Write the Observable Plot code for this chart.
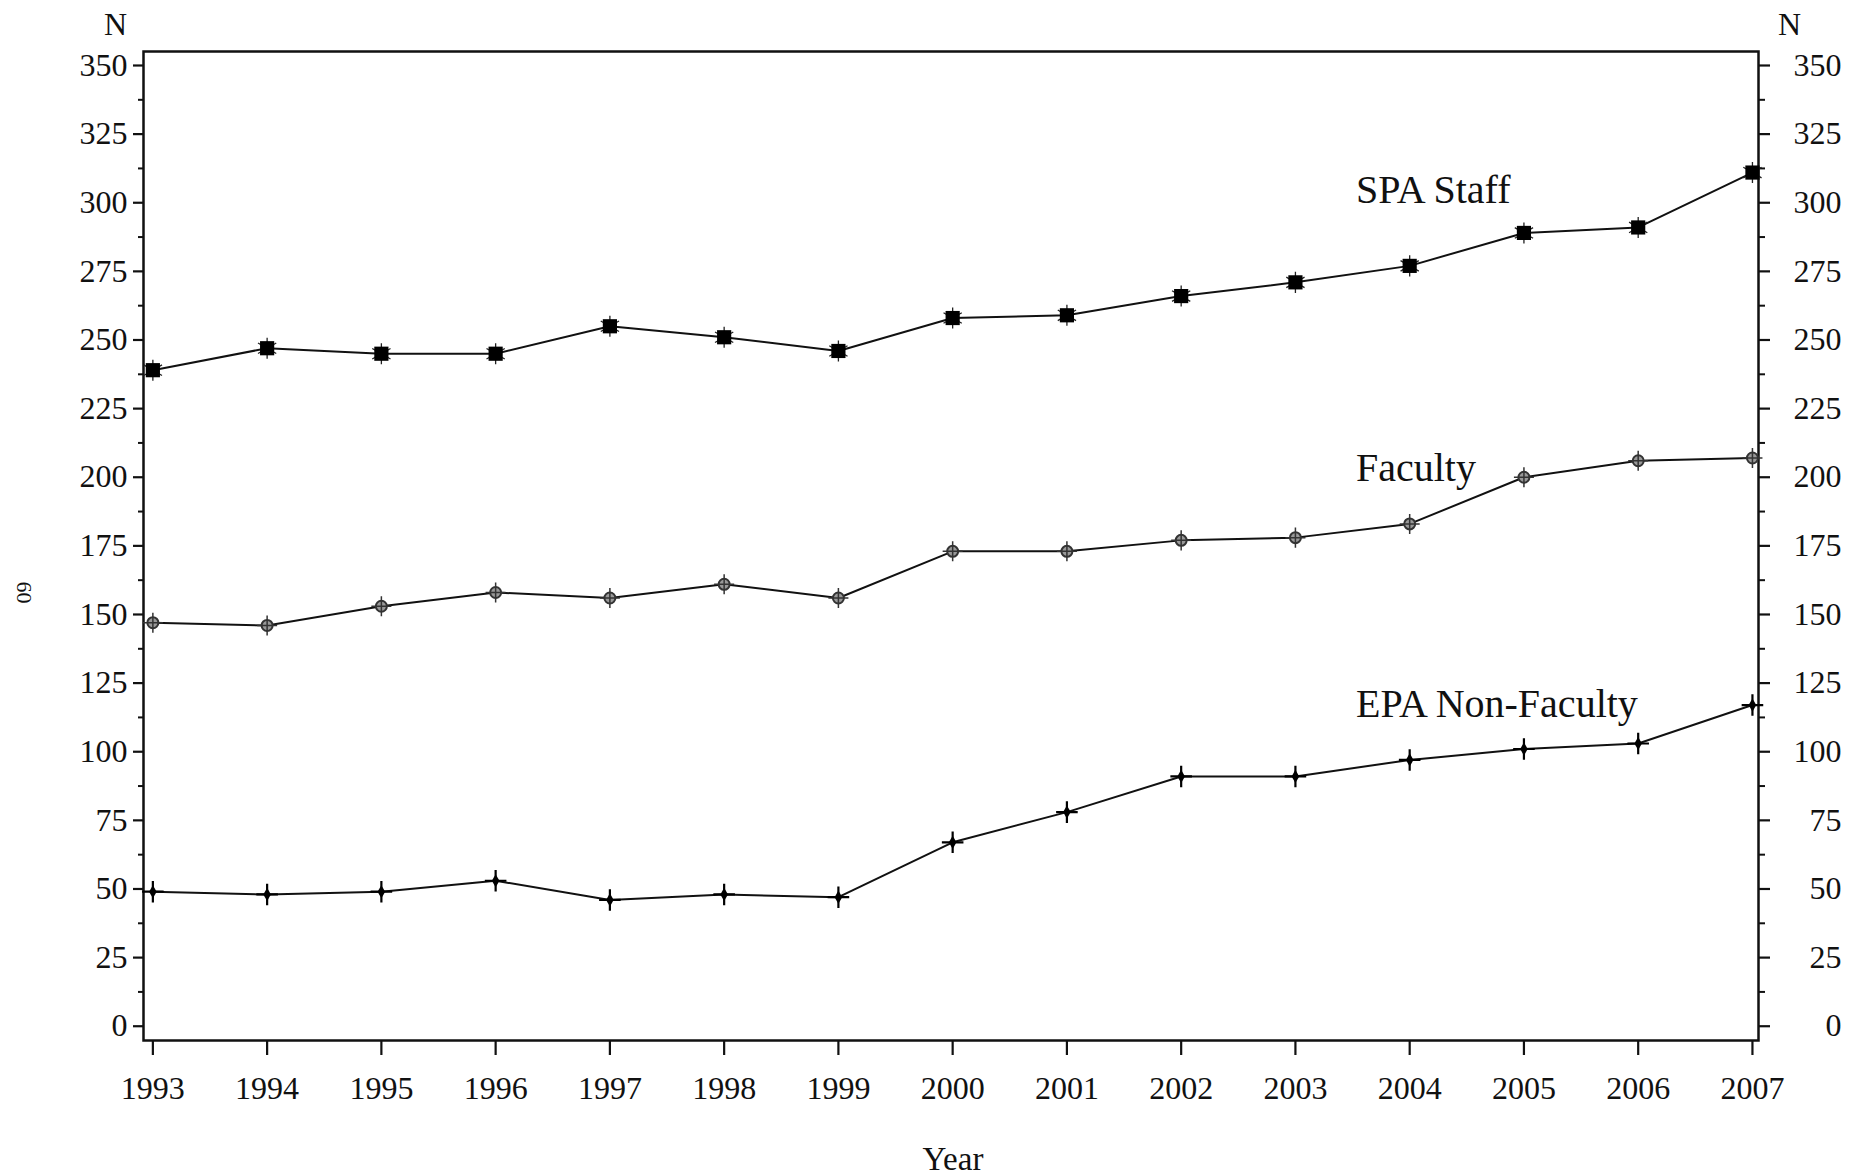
<!DOCTYPE html>
<html>
<head>
<meta charset="utf-8">
<script src="https://cdn.jsdelivr.net/npm/d3@7"></script>
<script src="https://cdn.jsdelivr.net/npm/@observablehq/plot@0.6"></script>
<style>
  html, body { margin: 0; padding: 0; background: #fff; }
  #chart svg { display: block; }
</style>
</head>
<body>
<div id="chart"></div>
<script>
const years = [1993, 1994, 1995, 1996, 1997, 1998, 1999, 2000, 2001, 2002, 2003, 2004, 2005, 2006, 2007];
const spaStaff = [239, 247, 245, 245, 255, 251, 246, 258, 259, 266, 271, 277, 289, 291, 311];
const faculty = [147, 146, 153, 158, 156, 161, 156, 173, 173, 177, 178, 183, 200, 206, 207];
const epaNonFaculty = [49, 48, 49, 53, 46, 48, 47, 67, 78, 91, 91, 97, 101, 103, 117];
const yTicks = [0, 25, 50, 75, 100, 125, 150, 175, 200, 225, 250, 275, 300, 325, 350];
const yMinorTicks = [12.5, 37.5, 62.5, 87.5, 112.5, 137.5, 162.5, 187.5, 212.5, 237.5, 262.5, 287.5, 312.5, 337.5];
const seriesLabels = ["SPA Staff", "Faculty", "EPA Non-Faculty"];

const rows = (vals) => years.map((yr, i) => ({year: yr, n: vals[i]}));
const spa = rows(spaStaff);
const fac = rows(faculty);
const epa = rows(epaNonFaculty);

const font = "'Liberation Serif', 'Times New Roman', Times, serif";

const chart = Plot.plot({
  width: 1854,
  height: 1175,
  marginLeft: 143,
  marginRight: 96,
  marginTop: 51,
  marginBottom: 135,
  style: {fontFamily: font, fontSize: "32px", color: "#111", background: "#fff", overflow: "visible"},
  x: {domain: [1992.918, 2007.053]},
  y: {domain: [-5.2, 355.1]},
  marks: [
    Plot.axisY({ticks: yTicks, tickSize: 10, tickPadding: 6, strokeWidth: 2.2, label: null, fontSize: 32}),
    Plot.axisY({ticks: yMinorTicks, tickSize: 5, strokeWidth: 2, text: null, label: null}),
    Plot.axisY({anchor: "right", ticks: yTicks, tickSize: 11, tickPadding: 72, textAnchor: "end", strokeWidth: 2.2, label: null, fontSize: 32}),
    Plot.axisY({anchor: "right", ticks: yMinorTicks, tickSize: 6, strokeWidth: 2, text: null, label: null}),
    Plot.axisX({ticks: years, tickFormat: "d", tickSize: 15, tickPadding: 21, strokeWidth: 2.2, label: null, fontSize: 32}),
    Plot.frame({stroke: "#111", strokeWidth: 2.5}),

    Plot.lineY(spa, {x: "year", y: "n", stroke: "#111", strokeWidth: 2}),
    Plot.lineY(fac, {x: "year", y: "n", stroke: "#111", strokeWidth: 2}),
    Plot.lineY(epa, {x: "year", y: "n", stroke: "#111", strokeWidth: 2}),

    // SPA Staff markers: star behind a filled square
    Plot.dot(spa, {x: "year", y: "n", symbol: "asterisk", r: 10, stroke: "#222", strokeWidth: 1.3}),
    Plot.dot(spa, {x: "year", y: "n", symbol: "square", r: 8, fill: "#000", stroke: "none"}),

    // Faculty markers: circle with plus
    Plot.dot(fac, {x: "year", y: "n", symbol: "circle", r: 5.5, fill: "#999", stroke: "#333", strokeWidth: 2}),
    Plot.dot(fac, {x: "year", y: "n", symbol: "plus", r: 6.5, stroke: "#333", strokeWidth: 1.5}),

    // EPA Non-Faculty markers: bold plus
    Plot.dot(epa, {x: "year", y: "n", symbol: "plus", r: 7, stroke: "#000", strokeWidth: 2.2}),
    Plot.dot(epa, {x: "year", y: "n", symbol: "diamond", r: 4, fill: "#000", stroke: "none"}),

    // Series labels
    Plot.text([seriesLabels[0]], {x: 2003.53, y: 300, text: d => d, textAnchor: "start", lineAnchor: "bottom", fontSize: 40, fill: "#111"}),
    Plot.text([seriesLabels[1]], {x: 2003.53, y: 198.6, text: d => d, textAnchor: "start", lineAnchor: "bottom", fontSize: 40, fill: "#111"}),
    Plot.text([seriesLabels[2]], {x: 2003.53, y: 112.8, text: d => d, textAnchor: "start", lineAnchor: "bottom", fontSize: 40, fill: "#111"}),

    // Axis titles
    Plot.text(["N"], {frameAnchor: "top-left", text: d => d, dx: -28, dy: -27, lineAnchor: "middle", textAnchor: "middle", fontSize: 32, fill: "#111"}),
    Plot.text(["N"], {frameAnchor: "top-right", text: d => d, dx: 31, dy: -27, lineAnchor: "middle", textAnchor: "middle", fontSize: 32, fill: "#111"}),
    Plot.text(["Year"], {frameAnchor: "bottom", text: d => d, dx: 2, dy: 119, lineAnchor: "middle", textAnchor: "middle", fontSize: 33, fill: "#111"}),
    Plot.text(["60"], {frameAnchor: "left", text: d => d, dx: -119, dy: 46.5, rotate: 90, lineAnchor: "middle", textAnchor: "middle", fontSize: 22, fill: "#111"})
  ]
});

document.getElementById("chart").appendChild(chart);
</script>
</body>
</html>
